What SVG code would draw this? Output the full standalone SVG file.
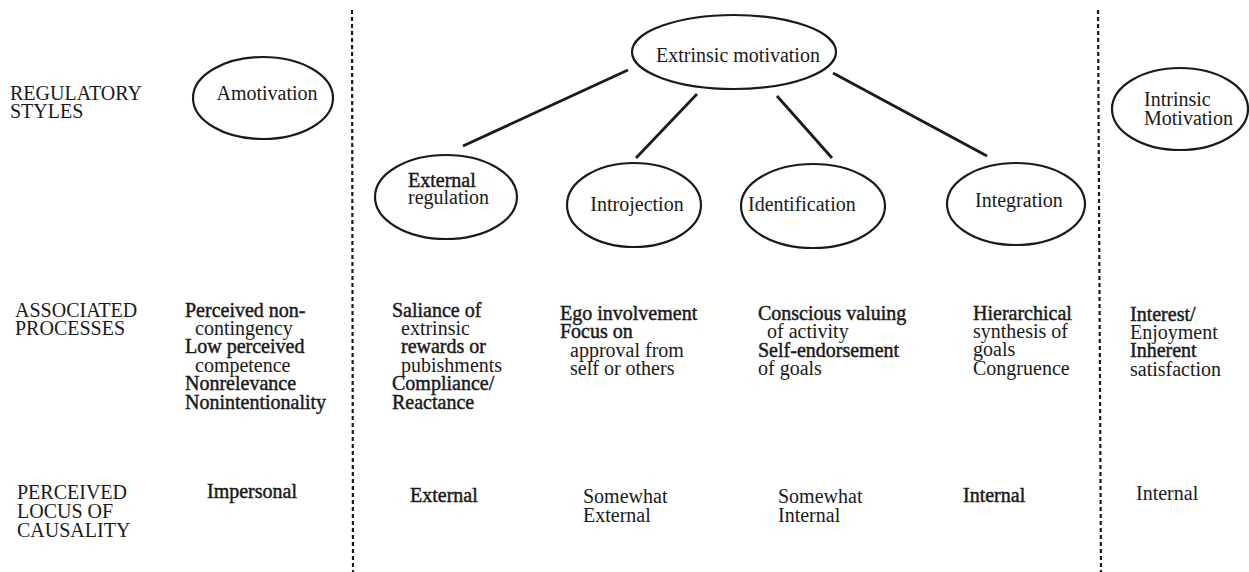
<svg xmlns="http://www.w3.org/2000/svg" width="1249" height="572" viewBox="0 0 1249 572" font-family="'Liberation Serif', 'Times New Roman', serif">
<style>
text{font-family:'Liberation Serif','Times New Roman',serif;font-size:20px;fill:#1a1a1a}
.b{stroke:#1a1a1a;stroke-width:0.45}
ellipse{fill:#fff;stroke:#1a1a1a;stroke-width:2.2}
.div{stroke:#1a1a1a;stroke-width:2.2;stroke-dasharray:4 3;fill:none}
.con{stroke:#1a1a1a;stroke-width:2.8;fill:none}
</style>
<rect width="1249" height="572" fill="#fff"/>
<g id="dividers">
<line class="div" x1="352" y1="10" x2="353" y2="572"/>
<line class="div" x1="1098" y1="10" x2="1101" y2="572"/>
</g>
<g id="connectors">
<line class="con" x1="628" y1="70" x2="463" y2="146"/>
<line class="con" x1="697" y1="94" x2="636" y2="158"/>
<line class="con" x1="777" y1="96" x2="832" y2="158"/>
<line class="con" x1="833" y1="73" x2="987" y2="156"/>
</g>
<g id="row-labels">
<text x="10" y="100">REGULATORY</text>
<text x="10" y="118">STYLES</text>
<text x="15" y="317">ASSOCIATED</text>
<text x="15" y="335">PROCESSES</text>
<text x="17" y="499">PERCEIVED</text>
<text x="17" y="518">LOCUS OF</text>
<text x="17" y="537">CAUSALITY</text>
</g>
<g id="amotivation">
<ellipse cx="263" cy="98" rx="70" ry="41"/>
<text x="267" y="100" text-anchor="middle">Amotivation</text>
</g>
<g id="extrinsic">
<ellipse cx="734" cy="52" rx="102" ry="37"/>
<text x="738" y="62" text-anchor="middle">Extrinsic motivation</text>
</g>
<g id="external-regulation">
<ellipse cx="446" cy="197" rx="71" ry="42"/>
<text x="408" y="187" class="b">External</text>
<text x="408" y="204">regulation</text>
</g>
<g id="introjection">
<ellipse cx="634" cy="205" rx="67" ry="42"/>
<text x="637" y="211" text-anchor="middle">Introjection</text>
</g>
<g id="identification">
<ellipse cx="813" cy="206" rx="72" ry="42"/>
<text x="748" y="211">Identification</text>
</g>
<g id="integration">
<ellipse cx="1016" cy="204" rx="69" ry="41"/>
<text x="975" y="207">Integration</text>
</g>
<g id="intrinsic">
<ellipse cx="1180" cy="109" rx="68" ry="41"/>
<text x="1144" y="106">Intrinsic</text>
<text x="1144" y="125">Motivation</text>
</g>
<g id="processes">
<text x="185" y="317" class="b">Perceived non-</text>
<text x="195" y="335">contingency</text>
<text x="185" y="353" class="b">Low perceived</text>
<text x="195" y="372">competence</text>
<text x="185" y="390" class="b">Nonrelevance</text>
<text x="185" y="409" class="b">Nonintentionality</text>
<text x="392" y="317" class="b">Saliance of</text>
<text x="401" y="335">extrinsic</text>
<text x="401" y="353" class="b">rewards or</text>
<text x="401" y="372">pubishments</text>
<text x="392" y="390" class="b">Compliance/</text>
<text x="392" y="409" class="b">Reactance</text>
<text x="560" y="320" class="b">Ego involvement</text>
<text x="560" y="338" class="b">Focus on</text>
<text x="570" y="357">approval from</text>
<text x="570" y="375">self or others</text>
<text x="758" y="320" class="b">Conscious valuing</text>
<text x="767" y="338">of activity</text>
<text x="758" y="357" class="b">Self-endorsement</text>
<text x="758" y="375">of goals</text>
<text x="973" y="320" class="b">Hierarchical</text>
<text x="973" y="338">synthesis of</text>
<text x="973" y="356">goals</text>
<text x="973" y="375">Congruence</text>
<text x="1130" y="321" class="b">Interest/</text>
<text x="1130" y="339">Enjoyment</text>
<text x="1130" y="357" class="b">Inherent</text>
<text x="1130" y="376">satisfaction</text>
</g>
<g id="locus">
<text x="207" y="498" class="b">Impersonal</text>
<text x="410" y="502" class="b">External</text>
<text x="583" y="503">Somewhat</text>
<text x="583" y="522">External</text>
<text x="778" y="503">Somewhat</text>
<text x="778" y="522">Internal</text>
<text x="963" y="502" class="b">Internal</text>
<text x="1136" y="500">Internal</text>
</g>
</svg>
